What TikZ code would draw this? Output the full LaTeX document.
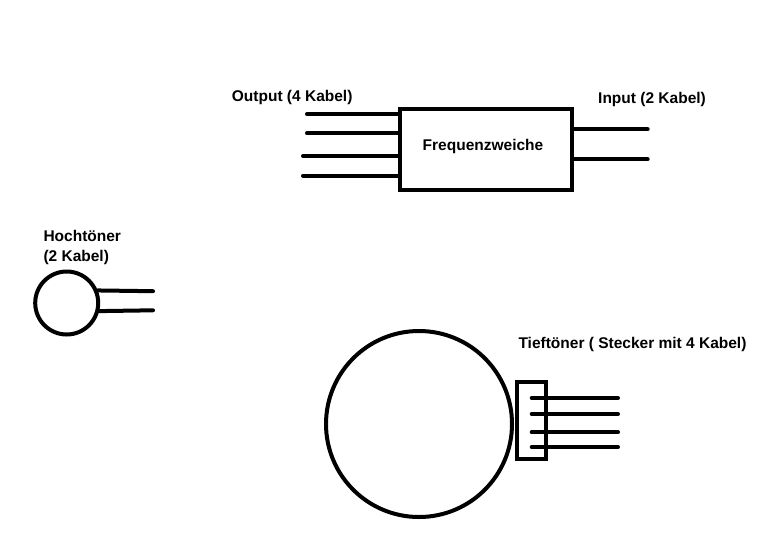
\documentclass[tikz,border=0pt]{standalone}
\usepackage{fontspec}
\setmainfont{Liberation Sans}
\usepackage{tikz}

\begin{document}
\begin{tikzpicture}[x=1pt, y=-1pt,
    font=\fontsize{15.5}{19.5}\selectfont\bfseries,
    wire/.style={line width=4pt, line cap=round},
    box/.style={draw, line width=4pt, inner sep=0pt},
    speaker/.style={draw, circle, line width=4pt, inner sep=0pt},
    label/.style={inner sep=0pt, anchor=base west, align=left}]
    \useasboundingbox (0,0) rectangle (773,557);
    % Frequenzweiche
    \node[box, minimum width=172pt, minimum height=81pt] (fw) at (485.6,149) {};
    \node[inner sep=0pt] (fwtext) at (483,146) {Frequenzweiche};
    \node[label] (outlabel) at (231.7,101.5) {Output (4 Kabel)};
    \node[label] (inlabel) at (598,103.5) {Input (2 Kabel)};
    \coordinate (o1) at (307,114.3);
    \coordinate (o2) at (307,133.3);
    \coordinate (o3) at (303,156);
    \coordinate (o4) at (303,175.7);
    \coordinate (i1) at (647.7,129.3);
    \coordinate (i2) at (647.7,159.3);
    \foreach \w in {o1,o2,o3,o4}
      \draw[wire] (\w) -- (\w -| fw.west);
    \foreach \w in {i1,i2}
      \draw[wire] (fw.east |- \w) -- (\w);
    % Hochtoener
    \node[speaker, minimum size=63pt] (ht) at (66.7,303) {};
    \node[label] (htlabel) at (43.3,261) {Hochtöner\\(2 Kabel)};
    \coordinate (h1) at (153,291.2);
    \coordinate (h2) at (153,310.3);
    \draw[wire] (ht.22) -- (h1);
    \draw[wire] (ht.-14) -- (h2);
    % Tieftoener mit Stecker
    \node[speaker, minimum size=186pt] (tt) at (419,424) {};
    \node[box, minimum width=28.5pt, minimum height=76.7pt] (st) at (531.7,420.3) {};
    \node[label] (ttlabel) at (518.3,348) {Tieftöner ( Stecker mit 4 Kabel)};
    \coordinate (s1) at (618,398);
    \coordinate (s2) at (618,414);
    \coordinate (s3) at (618,432.3);
    \coordinate (s4) at (618,447);
    \foreach \w in {s1,s2,s3,s4}
      \draw[wire] (st.center |- \w) -- (\w);
\end{tikzpicture}
\end{document}
